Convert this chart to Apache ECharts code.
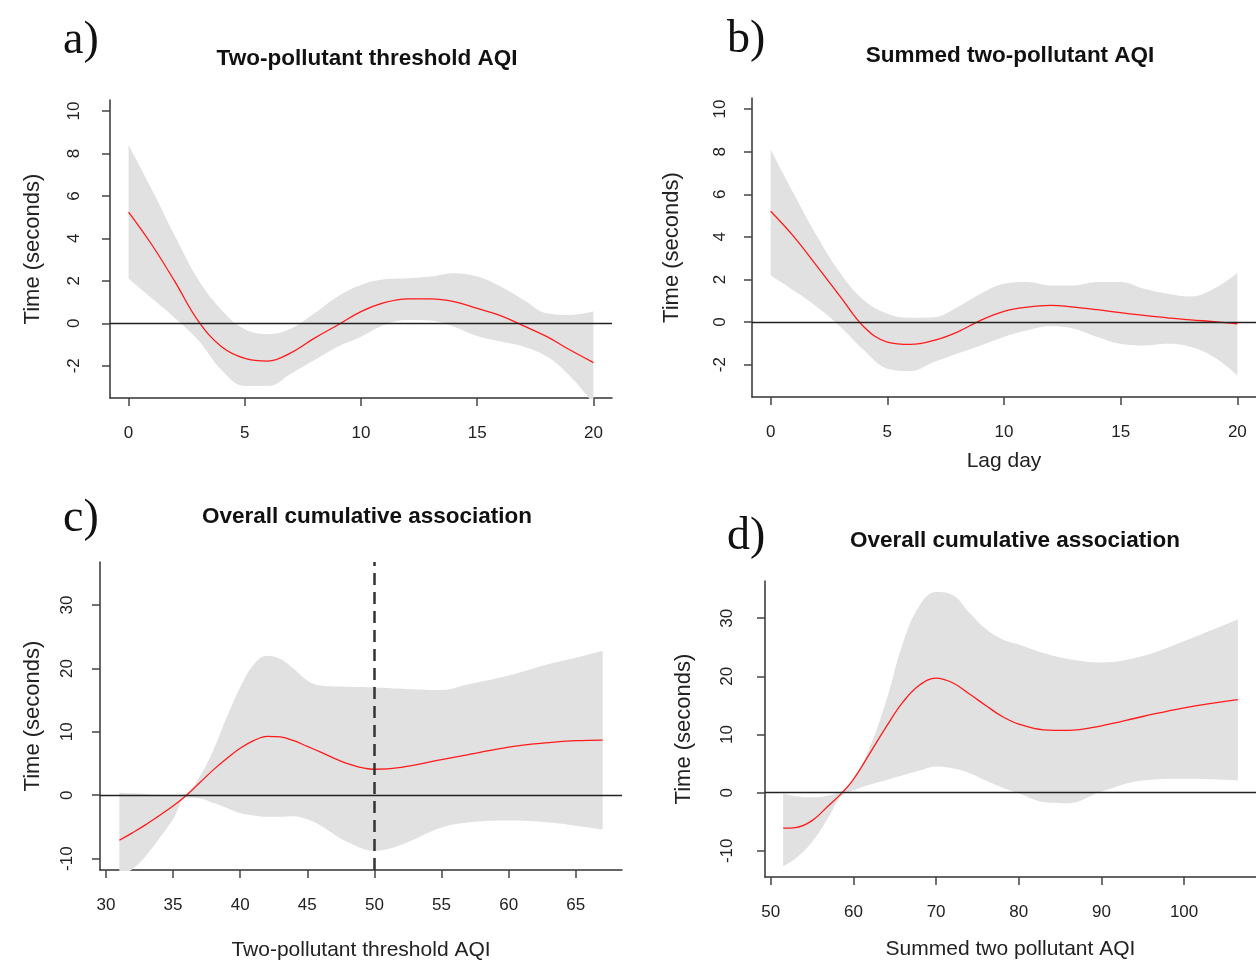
<!DOCTYPE html>
<html>
<head>
<meta charset="utf-8">
<script src="https://cdn.jsdelivr.net/npm/echarts@6/dist/echarts.min.js"></script>
<style>
  html, body { margin: 0; padding: 0; background: #fff; }
  #main { width: 1256px; height: 965px; }
</style>
</head>
<body>
<div id="main"></div>
<script>
// a) two-pollutant threshold AQI, by lag day
var lagA = [0, 1, 2, 3, 4, 5, 6, 7, 8, 9, 10, 11, 12, 13, 14, 15, 16, 17, 18, 19, 20];
var midA = [5.24, 3.7, 1.95, 0.1, -1.1, -1.65, -1.78, -1.38, -0.7, -0.08, 0.55, 0.97, 1.15, 1.15, 1.02, 0.7, 0.36, -0.12, -0.63, -1.26, -1.85];
var loA = [2.1, 1.18, 0.24, -0.8, -2.2, -2.95, -2.95, -2.36, -1.73, -1.1, -0.63, -0.08, 0.16, 0.13, -0.16, -0.6, -0.86, -1.1, -1.57, -2.5, -3.8];
var hiA = [8.4, 6.3, 4.1, 2.05, 0.63, -0.28, -0.5, -0.24, 0.47, 1.26, 1.8, 2.07, 2.12, 2.2, 2.36, 2.2, 1.73, 1.1, 0.47, 0.39, 0.55];

// b) summed two-pollutant AQI, by lag day
var lagB = [0, 1, 2, 3, 4, 5, 6, 7, 8, 9, 10, 11, 12, 13, 14, 15, 16, 17, 18, 19, 20];
var midB = [5.2, 4.0, 2.6, 1.17, -0.23, -0.94, -1.05, -0.86, -0.47, 0.08, 0.5, 0.7, 0.78, 0.7, 0.58, 0.44, 0.31, 0.2, 0.1, 0.02, -0.08];
var loB = [2.19, 1.48, 0.7, -0.23, -1.33, -2.19, -2.3, -1.88, -1.48, -1.1, -0.7, -0.39, -0.2, -0.31, -0.7, -1.02, -1.1, -1.02, -1.17, -1.64, -2.5];
var hiB = [8.1, 6.0, 4.0, 2.27, 1.02, 0.39, 0.2, 0.23, 0.7, 1.33, 1.8, 1.88, 1.72, 1.72, 1.88, 1.88, 1.56, 1.33, 1.2, 1.56, 2.3];

// c) overall cumulative, two-pollutant threshold AQI
var aqiC = [31, 32, 33, 35, 36, 37, 38, 39, 40, 41, 42, 43, 44, 45, 46, 48, 50, 52, 55, 57, 60, 63, 65, 67];
var midC = [-7.1, -5.9, -4.6, -1.7, 0, 2.0, 4.0, 5.8, 7.4, 8.6, 9.3, 9.2, 8.6, 7.7, 6.8, 5.0, 4.1, 4.4, 5.6, 6.4, 7.6, 8.3, 8.6, 8.7];
var loC = [-13, -11.6, -9.5, -3.8, -0.4, -0.5, -1.2, -2.0, -2.8, -3.2, -3.4, -3.4, -3.3, -3.8, -4.8, -7.4, -8.75, -7.8, -5.1, -4.3, -4.0, -4.3, -4.8, -5.4];
var hiC = [0.4, 0.3, 0.2, 0.0, 0.3, 3.0, 7.1, 12.3, 17.0, 20.6, 22.0, 21.5, 19.9, 18.1, 17.3, 17.1, 17.0, 16.8, 16.6, 17.5, 18.9, 20.7, 21.7, 22.8];

// d) overall cumulative, summed two pollutant AQI
var aqiD = [51.5, 53, 55, 57, 58.5, 60, 62, 64, 66, 68, 70, 72, 74, 76, 78, 80, 83, 86, 90, 95, 100, 106.5];
var midD = [-6.1, -6.0, -4.8, -2.2, -0.2, 2.3, 6.8, 11.4, 15.6, 18.5, 19.7, 18.9, 17.0, 15.0, 13.1, 11.8, 10.8, 10.7, 11.5, 13.1, 14.6, 16.0];
var loD = [-12.6, -11.3, -8.5, -4.2, -0.6, 0.4, 1.4, 2.2, 3.0, 3.8, 4.5, 4.2, 3.4, 2.1, 0.9, -0.1, -1.6, -1.8, 0.2, 2.1, 2.4, 2.1];
var hiD = [-0.2, -0.6, -0.8, -0.5, 0.3, 2.1, 7.9, 16.0, 25.8, 32.2, 34.5, 34.0, 31.0, 28.2, 26.4, 25.5, 24.0, 23.0, 22.4, 23.5, 26.1, 29.8];

var ticksLag = [0, 5, 10, 15, 20];
var ticksSmallY = [-2, 0, 2, 4, 6, 8, 10];
var ticksC = [30, 35, 40, 45, 50, 55, 60, 65];
var ticksD = [50, 60, 70, 80, 90, 100];
var ticksBigY = [-10, 0, 10, 20, 30];

var FONT = 'Liberation Sans';

function pairs(xs, ys) {
    return xs.map(function (x, i) { return [x, ys[i]]; });
}

// band rows are [y, x] so that the stack runs on the y values
function bandRows(xs, ys) {
    return xs.map(function (x, i) { return [ys[i], x]; });
}

function diff(hi, lo) {
    return hi.map(function (v, i) { return +(v - lo[i]).toFixed(3); });
}

function xAxisOf(idx, min, max, ticks, name, gap) {
    return {
        gridIndex: idx, type: 'value', min: min, max: max,
        name: name, nameLocation: 'middle', nameGap: gap,
        nameTextStyle: {fontFamily: FONT, fontSize: 21, color: '#222'},
        axisLine: {onZero: false, lineStyle: {color: '#333', width: 1.5}},
        axisTick: {length: 8, lineStyle: {color: '#444', width: 1.5}, customValues: ticks},
        axisLabel: {margin: 27, fontFamily: FONT, fontSize: 17, color: '#222', customValues: ticks},
        splitLine: {show: false}
    };
}

function yAxisOf(idx, min, max, ticks, labelMargin, nameGap) {
    return {
        gridIndex: idx, type: 'value', min: min, max: max,
        name: 'Time (seconds)', nameLocation: 'middle', nameGap: nameGap,
        nameTextStyle: {fontFamily: FONT, fontSize: 22, color: '#222'},
        axisLine: {onZero: false, lineStyle: {color: '#333', width: 1.5}},
        axisTick: {length: 8, lineStyle: {color: '#444', width: 1.5}, customValues: ticks},
        axisLabel: {rotate: 90, margin: labelMargin, fontFamily: FONT, fontSize: 17, color: '#222', customValues: ticks},
        splitLine: {show: false}
    };
}

function panelSeries(idx, xs, mid, lo, hi, extraLines) {
    var stack = 'band' + idx;
    var lines = [{yAxis: 0, lineStyle: {color: '#222', width: 1.3, type: 'solid'}}].concat(extraLines || []);
    return [
        {
            type: 'line', xAxisIndex: idx, yAxisIndex: idx, stack: stack, stackStrategy: 'all',
            dimensions: ['v', 'x'], encode: {x: 1, y: 0},
            data: bandRows(xs, lo), smooth: 0.4, symbol: 'none', silent: true,
            lineStyle: {opacity: 0}
        },
        {
            type: 'line', xAxisIndex: idx, yAxisIndex: idx, stack: stack, stackStrategy: 'all',
            dimensions: ['v', 'x'], encode: {x: 1, y: 0},
            data: bandRows(xs, diff(hi, lo)), smooth: 0.4, symbol: 'none', silent: true,
            lineStyle: {opacity: 0},
            areaStyle: {color: '#e1e1e1', opacity: 1}
        },
        {
            type: 'line', xAxisIndex: idx, yAxisIndex: idx,
            data: pairs(xs, mid), smooth: 0.4, symbol: 'none', z: 4,
            lineStyle: {color: '#ff1a1a', width: 1.3},
            markLine: {silent: true, symbol: 'none', label: {show: false}, data: lines}
        }
    ];
}

function label(text, left, top) {
    return {
        text: text, left: left, top: top,
        textStyle: {fontFamily: 'Liberation Serif', fontSize: 46, fontWeight: 'normal', color: '#111'}
    };
}

function heading(text, cx, top) {
    return {
        text: text, left: cx, top: top, textAlign: 'center',
        textStyle: {fontFamily: FONT, fontSize: 22.5, fontWeight: 'bold', color: '#111'}
    };
}

var myChart = echarts.init(document.getElementById('main'));
var option = {
    animation: false,
    backgroundColor: '#fff',
    title: [
        label('a)', 58, 13),
        label('b)', 722, 12),
        label('c)', 58, 491),
        label('d)', 722, 509),
        heading('Two-pollutant threshold AQI', 362, 42),
        heading('Summed two-pollutant AQI', 1005, 39),
        heading('Overall cumulative association', 362, 500),
        heading('Overall cumulative association', 1010, 524)
    ],
    grid: [
        {left: 110, top: 100, width: 502, height: 298},
        {left: 752, top: 98, width: 504, height: 299},
        {left: 100, top: 562, width: 522, height: 308},
        {left: 765, top: 581, width: 494, height: 296}
    ],
    xAxis: [
        xAxisOf(0, -0.8, 20.8, ticksLag, '', 50),
        xAxisOf(1, -0.8, 20.8, ticksLag, 'Lag day', 54),
        xAxisOf(2, 29.56, 68.44, ticksC, 'Two-pollutant threshold AQI', 70),
        xAxisOf(3, 49.3, 108.7, ticksD, 'Summed two pollutant AQI', 62)
    ],
    yAxis: [
        yAxisOf(0, -3.52, 10.52, ticksSmallY, 27, 66),
        yAxisOf(1, -3.52, 10.52, ticksSmallY, 23, 69),
        yAxisOf(2, -11.8, 36.8, ticksBigY, 24, 56),
        yAxisOf(3, -14.5, 36.4, ticksBigY, 29, 70)
    ],
    series: [].concat(
        panelSeries(0, lagA, midA, loA, hiA),
        panelSeries(1, lagB, midB, loB, hiB),
        panelSeries(2, aqiC, midC, loC, hiC,
            [{xAxis: 50, lineStyle: {color: '#333', width: 2.5, type: [12, 7]}}]),
        panelSeries(3, aqiD, midD, loD, hiD)
    )
};
myChart.setOption(option);
</script>
</body>
</html>
